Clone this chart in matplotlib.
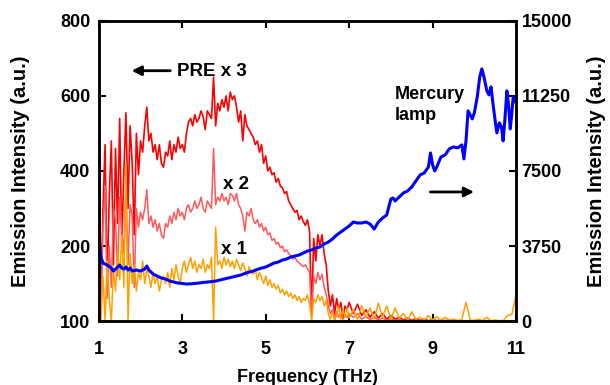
import numpy as np
import matplotlib.pyplot as plt

plt.rcParams['font.family'] = ['Liberation Sans', 'DejaVu Sans']
plt.rcParams['font.weight'] = 'bold'

# frequency grid: 0.05 THz steps up to 7 THz, 0.1 THz after that
freq = np.concatenate([np.linspace(1.0, 7.0, 121), np.linspace(7.1, 11.0, 40)])

# PRE spectra (left axis units, scaled x3 / x2 / x1)
pre_x3 = [
    540, 60, 300, 470, 90, 330, 480, 150, 460, 260,
    540, 200, 400, 555, 300, 520, 420, 230, 500, 390,
    480, 450, 520, 570, 480, 500, 450, 470, 430, 470,
    420, 410, 450, 440, 480, 430, 470, 450, 490, 460,
    470, 450, 500, 530, 540, 520, 550, 530, 540, 560,
    545, 510, 560, 550, 540, 650, 520, 580, 560, 590,
    570, 600, 560, 610, 590, 600, 570, 530, 560, 480,
    550, 520, 510, 500, 490, 470, 480, 450, 470, 420,
    440, 400, 410, 390, 395, 370, 380, 360, 355, 340,
    345, 320, 310, 300, 290, 295, 270, 280, 265, 255,
    270, 240, 20, 220, 160, 230, 200, 230, 180, 150,
    80, 40, 70, 20, 60, 30, 50, 10, 40, 30,
    50,
    20, 45, 15, 30, 10, 25, 8, 20, 5, 15,
    5, 10, 3, 8, 2, 6, 2, 5, 1, 4,
    1, 3, 1, 2, 0, 1, 0, 1, 0, 1,
    0, 0, 0, 0, 0, 0, 0, 0, 0, 0,
]
pre_x2 = [
    320, 30, 250, 360, 60, 200, 90, 300, 270, 120,
    330, 240, 180, 350, 150, 310, 280, 90, 300, 250,
    290, 270, 300, 350, 260, 280, 250, 270, 240, 260,
    230, 220, 260, 250, 280, 260, 290, 270, 300, 280,
    290, 270, 300, 310, 290, 300, 320, 300, 310, 330,
    300, 290, 320, 310, 300, 460, 310, 330, 320, 340,
    320, 330, 310, 340, 335, 320, 340, 310, 300, 280,
    240, 290, 280, 300, 270, 260, 270, 250, 260, 240,
    250, 230, 235, 215, 220, 205, 210, 195, 200, 185,
    190, 180, 175, 165, 170, 160, 155, 150, 145, 150,
    140, 130, 15, 120, 100, 130, 110, 125, 90, 70,
    40, 20, 30, 10, 25, 10, 20, 5, 15, 10,
    20,
    10, 20, 5, 12, 4, 10, 3, 8, 2, 6,
    2, 4, 1, 3, 1, 2, 0, 1, 0, 1,
    0, 0, 0, 0, 0, 0, 0, 0, 0, 0,
    0, 0, 0, 0, 0, 0, 0, 0, 0, 0,
]
pre_x1 = [
    250, 0, 120, 0, 160, 60, 0, 140, 80, 190,
    110, 230, 90, 420, 0, 180, 100, 150, 80, 130,
    110, 160, 100, 140, 120, 90, 130, 100, 120, 80,
    110, 120, 100, 130, 90, 140, 110, 150, 120, 100,
    140, 160, 130, 150, 170, 140, 160, 130, 150, 140,
    165, 130, 150, 140, 170, 0, 250, 150, 160, 140,
    170, 150, 165, 145, 160, 140, 165, 150, 135, 155,
    140, 120, 145, 130, 125, 140, 110, 130, 115, 100,
    120, 95, 110, 90, 100, 85, 95, 75, 85, 70,
    80, 65, 75, 60, 70, 55, 65, 50, 60, 55,
    70, 45, 0, 60, 50, 70, 55, 65, 40, 55,
    20, 5, 25, 0, 15, 40, 5, 30, 10, 35,
    8,
    30, 5, 40, 10, 35, 5, 48, 10, 40, 5,
    35, 8, 20, 3, 25, 5, 10, 2, 15, 3,
    12, 2, 10, 3, 5, 2, 4, 50, 3, 2,
    5, 2, 10, 1, 3, 1, 2, 15, 18, 70,
]

# mercury lamp reference (right axis)
hg_freq = [
    1.00, 1.02, 1.05, 1.10, 1.15, 1.20, 1.30, 1.35, 1.40, 1.50,
    1.55, 1.60, 1.65, 1.70, 1.75, 1.80, 1.90, 2.00, 2.10, 2.15,
    2.20, 2.30, 2.40, 2.50, 2.60, 2.70, 2.80, 2.90, 3.00, 3.10,
    3.20, 3.30, 3.40, 3.50, 3.60, 3.70, 3.80, 3.90, 4.00, 4.10,
    4.20, 4.30, 4.40, 4.50, 4.60, 4.70, 4.80, 4.90, 5.00, 5.10,
    5.20, 5.30, 5.40, 5.50, 5.60, 5.70, 5.80, 5.90, 6.00, 6.10,
    6.20, 6.30, 6.40, 6.50, 6.60, 6.70, 6.80, 6.90, 7.00, 7.10,
    7.20, 7.30, 7.40, 7.50, 7.60, 7.70, 7.80, 7.90, 8.00, 8.05,
    8.10, 8.20, 8.30, 8.40, 8.50, 8.60, 8.70, 8.80, 8.90, 8.95,
    9.00, 9.05, 9.10, 9.20, 9.30, 9.40, 9.50, 9.60, 9.70, 9.75,
    9.80, 9.85, 9.95, 10.00, 10.07, 10.13, 10.18, 10.23, 10.30, 10.35,
    10.40, 10.45, 10.50, 10.54, 10.60, 10.65, 10.69, 10.73, 10.78, 10.82,
    10.86, 10.90, 10.93, 11.00,
]
hg_int = [
    4500, 3800, 3200, 2900, 2850, 2800, 2650, 2500, 2600, 2800,
    2650, 2600, 2700, 2550, 2650, 2500, 2550, 2500, 2600, 2750,
    2550, 2350, 2250, 2150, 2100, 2000, 1950, 1900, 1880, 1850,
    1860, 1880, 1900, 1930, 1950, 1970, 2000, 2050, 2100, 2150,
    2200, 2250, 2300, 2380, 2450, 2500, 2580, 2650, 2700, 2800,
    2900, 2950, 3050, 3100, 3200, 3250, 3300, 3400, 3500, 3550,
    3650, 3700, 3850, 3950, 4100, 4300, 4450, 4600, 4750, 4950,
    4900, 4900, 4950, 4850, 4600, 4950, 5150, 5300, 6100, 6150,
    6000, 6200, 6400, 6500, 6700, 7000, 7300, 7400, 7700, 8400,
    7800, 7500, 7700, 8200, 8300, 8600, 8700, 8650, 8800, 8100,
    9000, 10500, 10100, 10400, 11200, 12200, 12600, 12200, 11500, 11300,
    11700, 10800, 10000, 9400, 9900, 9700, 9000, 10000, 11500, 10800,
    9600, 10400, 11200, 10900,
]

x_ticks = [1, 3, 5, 7, 9, 11]
left_ticks = [0, 200, 400, 600, 800]
left_labels = ['100', '200', '400', '600', '800']
right_ticks = [0, 3750, 7500, 11250, 15000]

fig = plt.figure(figsize=(6.1, 3.85), dpi=100)
ax = fig.add_axes([0.162, 0.166, 0.684, 0.780])

ax.plot(freq, pre_x3, color='#ff0000', lw=1.2)
ax.plot(freq, pre_x2, color='#ff5a5a', lw=1.1)
ax.plot(freq, pre_x1, color='#ffa000', lw=1.1)

ax.set_xlim(1, 11)
ax.set_ylim(0, 800)
ax.set_xticks(x_ticks)
ax.set_yticks(left_ticks)
ax.set_yticklabels(left_labels)
ax.tick_params(direction='in', labelsize=13, width=1.5, length=5, top=True, pad=6)
ax.tick_params(axis='x', pad=14)
for s in ax.spines.values():
    s.set_linewidth(1.8)
ax.set_xlabel('Frequency (THz)', fontsize=13, fontweight='bold', labelpad=8)
ax.set_ylabel('Emission Intensity (a.u.)', fontsize=14.5, fontweight='bold', labelpad=22)

ax2 = ax.twinx()
ax2.plot(hg_freq, hg_int, color='#0000ff', lw=2.2)
ax2.set_ylim(0, 15000)
ax2.set_yticks(right_ticks)
ax2.tick_params(direction='in', labelsize=13, width=1.5, length=5, pad=4)
ax2.set_ylabel('Emission Intensity (a.u.)', fontsize=14.5, fontweight='bold', labelpad=11)
for s in ax2.spines.values():
    s.set_linewidth(1.8)

# annotations
ax.text(3.72, 665, 'PRE x 3', fontsize=13.5, fontweight='bold', ha='center', va='center')
ax.annotate('', xy=(1.72, 667), xytext=(2.78, 667),
            arrowprops=dict(arrowstyle='-|>', color='black', lw=2, mutation_scale=14))
ax.text(4.29, 363, 'x 2', fontsize=13.5, fontweight='bold', ha='center', va='center')
ax.text(4.24, 192, 'x 1', fontsize=13.5, fontweight='bold', ha='center', va='center')
ax.text(8.1, 575, 'Mercury\nlamp', fontsize=13, fontweight='bold', ha='left', va='center',
        linespacing=1.3)
ax.annotate('', xy=(10.06, 344), xytext=(8.88, 344),
            arrowprops=dict(arrowstyle='-|>', color='black', lw=2, mutation_scale=14))

fig.savefig('out.png', dpi=100)
